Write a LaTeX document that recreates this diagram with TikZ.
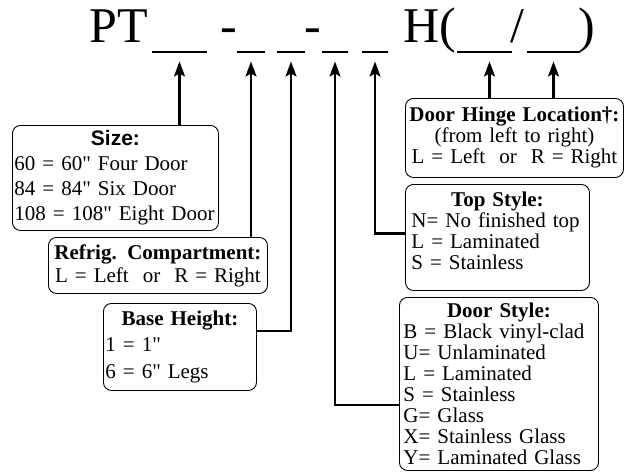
\documentclass[tikz,border=0pt]{standalone}
\usepackage{fontspec}
\setmainfont{Liberation Serif}[Ligatures=TeXOff]
\setsansfont{Liberation Sans}[Ligatures=TeXOff]
\usepackage{tikz}
\usetikzlibrary{arrows.meta, positioning, calc}

\newcommand{\boxhead}[1]{{\centering\bfseries #1\par}}

\begin{document}
\begin{tikzpicture}[x=1pt, y=-1pt,
  code/.style={font=\fontsize{50}{50}\selectfont, inner sep=0pt, anchor=base},
  blank/.style={fill=black, inner sep=0pt, minimum height=2.6pt},
  keybox/.style={draw, line width=0.9pt, rounded corners=8pt, anchor=north west, inner ysep=0pt, font=\fontsize{21}{21}\selectfont},
  feed/.style={line width=2.2pt, -{Stealth[length=15pt, width=11pt, inset=3pt]}, shorten >=8pt}]
  \useasboundingbox (0,0) rectangle (629,472);

  % part number
  \node[code] (pt) at (118.5,42) {PT};
  \node[code] (d1) at (228.5,42) {-};
  \node[code] (d2) at (313,42) {-};
  \node[code] (hpar) at (430,42) {H(};
  \node[code] (slash) at (517,42) {/};
  \node[code] (cpar) at (587,42) {)};

  \node[blank, minimum width=55pt] (b1) at (179.5,52) {};
  \node[blank, minimum width=28pt] (b2) at (251,52) {};
  \node[blank, minimum width=28pt] (b3) at (291,52) {};
  \node[blank, minimum width=26pt] (b4) at (335,52) {};
  \node[blank, minimum width=26pt] (b5) at (375,52) {};
  \node[blank, minimum width=55pt] (b6) at (484.5,52) {};
  \node[blank, minimum width=53pt] (b7) at (553.5,52) {};

  % option boxes
  \node[keybox, font=\fontsize{21}{25}\selectfont, inner xsep=2pt, text width=202pt, minimum width=206pt, minimum height=105pt, align=left] (size) at (12,125)
    {{\centering\sffamily\bfseries Size:\par}60 = 60" Four Door\\84 = 84" Six Door\\108 = 108" Eight Door};
  \node[keybox, font=\fontsize{21}{23}\selectfont, inner xsep=2pt, text width=215pt, minimum width=219pt, minimum height=56pt, align=center] (refrig) at (48,237)
    {\boxhead{Refrig. Compartment:}L = Left\ \ or\ \ R = Right};
  \node[keybox, font=\fontsize{21}{26.5}\selectfont, inner xsep=2pt, text width=149pt, minimum width=153pt, minimum height=87pt, align=left] (base) at (103,303)
    {\boxhead{Base Height:}1 = 1"\\6 = 6" Legs};
  \node[keybox, inner xsep=2pt, text width=214pt, minimum width=218pt, minimum height=79pt, align=center] (hinge) at (405,98)
    {\boxhead{Door Hinge Location†:}(from left to right)\\L = Left\ \ or\ \ R = Right};
  \node[keybox, inner xsep=6pt, text width=172pt, minimum width=184pt, minimum height=106pt, align=left] (top) at (405,184)
    {\boxhead{Top Style:}N= No finished top\\L = Laminated\\S = Stainless\rule[-14pt]{0pt}{1pt}};
  \node[keybox, inner xsep=4pt, text width=191pt, minimum width=199pt, minimum height=173pt, align=left] (door) at (399,297)
    {\boxhead{Door Style:}B = Black vinyl-clad\\U= Unlaminated\\L = Laminated\\S = Stainless\\G= Glass\\X= Stainless Glass\\Y= Laminated Glass};

  % connectors
  \draw[feed] (b1.south |- size.north) -- (b1.south);
  \draw[feed] (b2.south |- refrig.north) -- (b2.south);
  \draw[feed] ([yshift=16pt]base.east) -| (b3.south);
  \draw[feed] ([yshift=-21pt]door.west) -| (b4.south);
  \draw[feed] ([yshift=4pt]top.west) -| (b5.south);
  \coordinate (h6) at ([xshift=5pt]b6.south);
  \draw[feed] (h6 |- hinge.north) -- (h6);
  \draw[feed] (b7.south |- hinge.north) -- (b7.south);
\end{tikzpicture}
\end{document}
